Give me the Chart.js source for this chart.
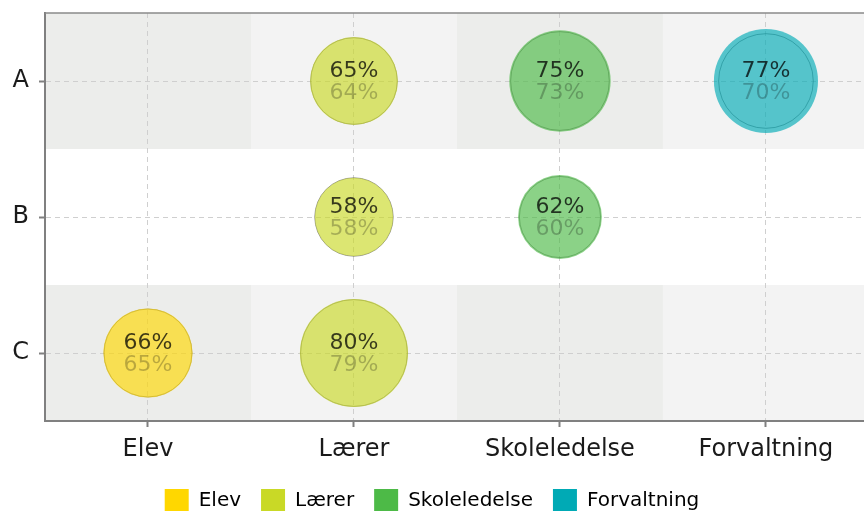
<!DOCTYPE html>
<html>
<head>
<meta charset="utf-8">
<script src="https://cdn.jsdelivr.net/npm/chart.js@4.4.1/dist/chart.umd.min.js"></script>
<style>
  html, body { margin: 0; padding: 0; background: #fff; overflow: hidden; }
  #wrap { position: relative; width: 864px; height: 523px; }
</style>
</head>
<body>
<div id="wrap"><canvas id="bubbleChart"></canvas></div>
<script>
// Categories and rows
const groups = ['Elev', 'Lærer', 'Skoleledelse', 'Forvaltning'];
const rows = ['A', 'B', 'C'];

// Values per row (A, B, C): current and previous
const elevNow = [null, null, 66];
const elevPrev = [null, null, 65];
const laererNow = [65, 58, 80];
const laererPrev = [64, 58, 79];
const skoleNow = [75, 62, null];
const skolePrev = [73, 60, null];
const forvNow = [77, null, null];
const forvPrev = [70, null, null];

const groupColors = ['#FFD700', '#C9D926', '#4DBA47', '#00AAB5'];
const fillColors = ['rgba(255,215,0,0.65)', 'rgba(201,217,38,0.65)', 'rgba(77,186,71,0.65)', 'rgba(0,170,181,0.65)'];

const nowSeries = [elevNow, laererNow, skoleNow, forvNow];
const prevSeries = [elevPrev, laererPrev, skolePrev, forvPrev];
const RADIUS_PER_PCT = 0.676;

function points(col, vals) {
    const out = [];
    vals.forEach((v, i) => {
        if (v !== null) out.push({ x: col, y: i, r: v * RADIUS_PER_PCT, v: v });
    });
    return out;
}

const datasets = [];
groups.forEach((g, c) => {
    datasets.push({
        label: g,
        data: points(c, nowSeries[c]),
        backgroundColor: fillColors[c],
        borderWidth: 0
    });
});
groups.forEach((g, c) => {
    datasets.push({
        label: g + ' prev',
        data: points(c, prevSeries[c]),
        backgroundColor: 'rgba(0,0,0,0)',
        borderColor: 'rgba(80,80,80,0.6)',
        borderWidth: 1
    });
});

// shaded cells behind rows A and C
const cellBackground = {
    id: 'cellBackground',
    beforeDraw(chart) {
        const { ctx, chartArea, scales: { x, y } } = chart;
        ctx.save();
        ctx.beginPath();
        ctx.rect(chartArea.left, chartArea.top, chartArea.right - chartArea.left, chartArea.bottom - chartArea.top);
        ctx.clip();
        [0, 2].forEach(r => {
            const y0 = y.getPixelForValue(r - 0.5);
            const y1 = y.getPixelForValue(r + 0.5);
            groups.forEach((g, c) => {
                const x0 = x.getPixelForValue(c - 0.5);
                const x1 = x.getPixelForValue(c + 0.5);
                ctx.fillStyle = c % 2 === 0 ? '#ecedeb' : '#f3f3f3';
                ctx.fillRect(x0, Math.min(y0, y1), x1 - x0, Math.abs(y1 - y0));
            });
        });
        ctx.restore();
    },
    afterDraw(chart) {
        const { ctx, chartArea } = chart;
        ctx.save();
        ctx.strokeStyle = '#8a8a8a';
        ctx.lineWidth = 1.5;
        ctx.beginPath();
        ctx.moveTo(chartArea.left, chartArea.top);
        ctx.lineTo(chartArea.right, chartArea.top);
        ctx.stroke();
        ctx.restore();
    }
};

// percentage labels inside bubbles
const bubbleLabels = {
    id: 'bubbleLabels',
    afterDatasetsDraw(chart) {
        const { ctx } = chart;
        ctx.save();
        ctx.font = '22px "DejaVu Sans"';
        ctx.textAlign = 'center';
        ctx.textBaseline = 'middle';
        groups.forEach((g, c) => {
            const metaNow = chart.getDatasetMeta(c);
            const metaPrev = chart.getDatasetMeta(c + groups.length);
            metaNow.data.forEach((el, i) => {
                const d = chart.data.datasets[c].data[i];
                const p = chart.data.datasets[c + groups.length].data[i];
                ctx.fillStyle = 'rgba(0,0,0,0.75)';
                ctx.fillText(d.v + '%', el.x, el.y - 10);
                ctx.fillStyle = 'rgba(0,0,0,0.25)';
                ctx.fillText(p.v + '%', metaPrev.data[i].x, metaPrev.data[i].y + 12);
            });
        });
        ctx.restore();
    }
};

new Chart(document.getElementById('bubbleChart'), {
    type: 'bubble',
    data: { datasets: datasets },
    options: {
        responsive: true,
        maintainAspectRatio: false,
        animation: false,
        layout: { autoPadding: false, padding: { top: 13, right: 0, left: 0, bottom: 0 } },
        scales: {
            x: {
                type: 'linear',
                min: -0.5,
                max: 3.476,
                afterBuildTicks: (scale) => { scale.ticks = groups.map((g, i) => ({ value: i })); },
                afterFit: (scale) => { scale.height = 48; scale.paddingLeft = 0; scale.paddingRight = 0; },
                ticks: {
                    padding: 8,
                    color: '#1a1a1a',
                    font: { family: 'DejaVu Sans', size: 24 },
                    callback: (v) => groups[v]
                },
                grid: {
                    color: '#cfcfcf',
                    lineWidth: 1,
                    tickColor: '#808080',
                    tickWidth: 2,
                    tickLength: 6,
                    tickBorderDash: []
                },
                border: { display: true, color: '#808080', width: 2, dash: [5, 4] }
            },
            y: {
                type: 'linear',
                min: -0.5,
                max: 2.5,
                reverse: true,
                afterBuildTicks: (scale) => { scale.ticks = rows.map((r, i) => ({ value: i })); },
                afterFit: (scale) => { scale.width = 45; scale.paddingTop = 0; scale.paddingBottom = 0; },
                ticks: {
                    padding: 10,
                    color: '#1a1a1a',
                    font: { family: 'DejaVu Sans', size: 24 },
                    callback: (v) => rows[v]
                },
                grid: {
                    color: '#cfcfcf',
                    lineWidth: 1,
                    tickColor: '#808080',
                    tickWidth: 2,
                    tickLength: 6,
                    tickBorderDash: []
                },
                border: { display: true, color: '#808080', width: 2, dash: [5, 4] }
            }
        },
        plugins: {
            tooltip: { enabled: false },
            legend: {
                position: 'bottom',
                labels: {
                    boxWidth: 24,
                    boxHeight: 24,
                    padding: 20,
                    color: '#1a1a1a',
                    font: { family: 'DejaVu Sans', size: 20 },
                    generateLabels: () => groups.map((g, i) => ({
                        text: g,
                        fillStyle: groupColors[i],
                        strokeStyle: groupColors[i],
                        lineWidth: 0,
                        datasetIndex: i
                    }))
                }
            }
        }
    },
    plugins: [cellBackground, bubbleLabels]
});
</script>
</body>
</html>
